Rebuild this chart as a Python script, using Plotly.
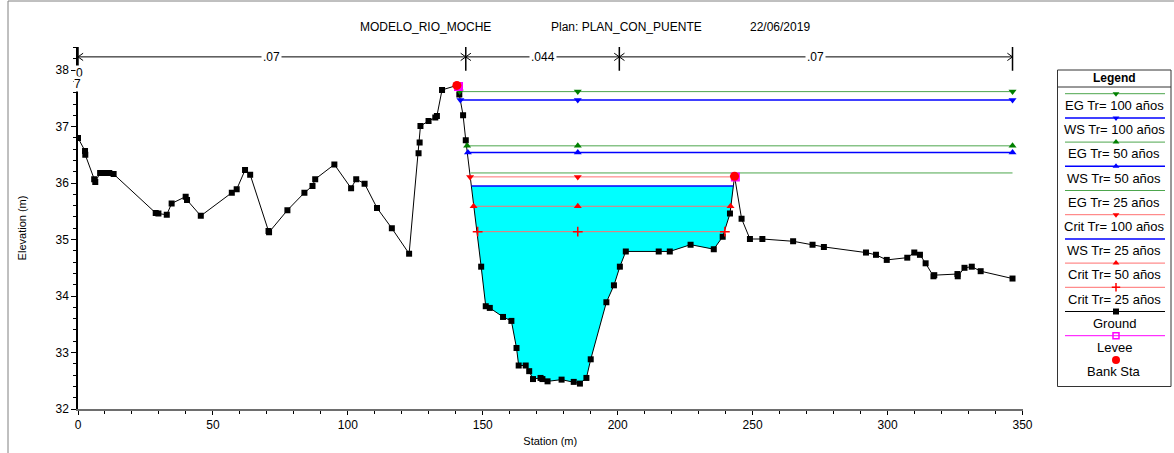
import numpy as np
import plotly.graph_objects as go

# ---------------- data ----------------
ground_sta = [0, 2.6, 2.7, 6.0, 6.4, 8.2, 10.0, 11.6, 13.2, 28.8, 29.8, 32.9, 34.7, 39.9, 40.4,
              45.5, 57.0, 58.8, 61.9, 63.8, 70.6, 70.8, 77.6, 83.9, 86.9, 87.9, 95.0, 101.2, 103.1,
              106.2, 110.8, 116.3, 122.7, 126.2, 126.6, 126.9, 129.9, 132.4, 133.0, 134.9, 140.4,
              141.3, 142.7, 143.7, 149.4, 151.1, 152.6, 157.5, 160.6, 162.5, 163.3, 165.9, 167.2,
              168.6, 171.4, 172.1, 174.0, 179.2, 183.7, 186.0, 188.4, 190.0, 195.8, 198.6, 200.8,
              203.0, 215.2, 219.3, 227.0, 235.6, 238.9, 241.6, 243.3, 245.9, 249.0, 253.6, 265.0,
              272.2, 276.4, 292.0, 295.7, 299.7, 307.3, 309.9, 312.0, 314.1, 317.0, 317.3, 325.9,
              326.0, 328.5, 331.2, 334.5, 346.3]
ground_elev = [36.80, 36.57, 36.50, 36.07, 36.02, 36.18, 36.18, 36.18, 36.16, 35.47, 35.46, 35.44,
               35.64, 35.76, 35.70, 35.42, 35.83, 35.89, 36.23, 36.15, 35.15, 35.13, 35.52, 35.83,
               35.95, 36.07, 36.33, 35.91, 36.07, 35.99, 35.56, 35.20, 34.75, 36.53, 36.72, 37.01,
               37.10, 37.16, 37.19, 37.65, 37.73, 37.57, 37.20, 36.76, 34.52, 33.82, 33.79, 33.63,
               33.56, 33.08, 32.77, 32.77, 32.67, 32.53, 32.55, 32.53, 32.49, 32.52, 32.48, 32.45,
               32.55, 32.88, 33.89, 34.19, 34.52, 34.79, 34.79, 34.79, 34.91, 34.83, 35.05, 35.46,
               36.12, 35.37, 35.01, 35.01, 34.97, 34.91, 34.87, 34.77, 34.73, 34.64, 34.68, 34.77,
               34.73, 34.58, 34.35, 34.37, 34.39, 34.35, 34.50, 34.52, 34.44, 34.31]

bank_sta = [140.4, 243.3]
bank_elev = [37.73, 36.12]
levee_sta = [141.0, 243.6]
levee_elev = [37.71, 36.11]

profile_names = ["EG Tr= 100 años", "WS Tr= 100 años", "EG Tr= 50 años", "WS Tr= 50 años",
                 "EG Tr= 25 años", "Crit Tr= 100 años", "WS Tr= 25 años", "Crit Tr= 50 años",
                 "Crit Tr= 25 años"]
profile_elev = [37.62, 37.47, 36.66, 36.54, 36.18, 36.11, 35.95, 35.59, 35.14]
profile_left = [141.45, 141.7, 144.2, 144.5, 145.5, 145.3, 145.8, 146.6, 148.1]
profile_right = [346.3, 346.3, 346.3, 346.3, 346.3, 243.0, 242.9, 241.8, 239.7]
profile_mid = 185.2

n_sta = [0, 143.7, 200.6, 346.3]
n_val = [".07", ".044", ".07"]
n_bar_elev = 38.235

x_ticks = [0, 50, 100, 150, 200, 250, 300, 350]
y_ticks = [32, 33, 34, 35, 36, 37, 38]

# ---------------- styles ----------------
GREEN_L = "#4da64d"
GREEN_M = "#008000"
BLUE = "#0000ff"
RED_L = "#ff7070"
RED_M = "#ff0000"
styles = {
    "EG Tr= 100 años": (GREEN_L, 1, "triangle-down", GREEN_M),
    "WS Tr= 100 años": (BLUE, 1.5, "triangle-down", BLUE),
    "EG Tr= 50 años": (GREEN_L, 1, "triangle-up", GREEN_M),
    "WS Tr= 50 años": (BLUE, 1.5, "triangle-up", BLUE),
    "EG Tr= 25 años": (GREEN_L, 1, None, None),
    "Crit Tr= 100 años": (RED_L, 1, "triangle-down", RED_M),
    "WS Tr= 25 años": (BLUE, 1.5, None, None),
    "Crit Tr= 50 años": (RED_L, 1, "triangle-up", RED_M),
    "Crit Tr= 25 años": (RED_L, 1, "cross-thin", RED_M),
}
FONT = "Liberation Sans, Arial, sans-serif"

fig = go.Figure()

# water fill for WS Tr=25
gs = np.array(ground_sta)
ge = np.array(ground_elev)
i_ws = profile_names.index("WS Tr= 25 años")
wl, wr, we = profile_left[i_ws], profile_right[i_ws], profile_elev[i_ws]
inside = (gs > wl) & (gs < wr)
fx = [wl] + list(gs[inside]) + [wr, wl]
fy = [we] + list(ge[inside]) + [we, we]
fig.add_trace(go.Scatter(x=fx, y=fy, fill="toself", fillcolor="#00ffff", mode="lines",
                         line=dict(width=0), showlegend=False))

# ground
fig.add_trace(go.Scatter(x=ground_sta, y=ground_elev, mode="lines+markers",
                         line=dict(color="black", width=1),
                         marker=dict(symbol="square", size=6, color="black"),
                         showlegend=False))

# profiles
for name, e, l, r in zip(profile_names, profile_elev, profile_left, profile_right):
    col, w, sym, mcol = styles[name]
    fig.add_trace(go.Scatter(x=[l, r], y=[e, e], mode="lines",
                             line=dict(color=col, width=w), showlegend=False))
    if sym:
        fig.add_trace(go.Scatter(x=[l, profile_mid, r], y=[e, e, e], mode="markers",
                                 marker=dict(symbol=sym, size=7, color=mcol,
                                             line=dict(color=mcol, width=1.5 if sym == "cross-thin" else 0)),
                                 showlegend=False))

# levee and bank stations
fig.add_trace(go.Scatter(x=levee_sta, y=levee_elev, mode="markers",
                         marker=dict(symbol="square", size=9, color="#ff00ff"), showlegend=False))
fig.add_trace(go.Scatter(x=bank_sta, y=bank_elev, mode="markers",
                         marker=dict(symbol="circle", size=9, color="#ff0000"), showlegend=False))

shapes = []
annotations = []

# Manning's n bar
shapes.append(dict(type="line", xref="x", yref="y", x0=n_sta[0], x1=n_sta[-1],
                   y0=n_bar_elev, y1=n_bar_elev, line=dict(color="black", width=1)))
for i, s in enumerate(n_sta):
    shapes.append(dict(type="line", xref="x", yref="y", x0=s, x1=s, y0=37.99, y1=38.45,
                       line=dict(color="black", width=1.5)))
for i in range(len(n_val)):
    a, b = n_sta[i], n_sta[i + 1]
    for (px, d) in ((a, 1), (b, -1)):
        for dy in (0.065, -0.065):
            shapes.append(dict(type="line", xref="x", yref="y", x0=px, y0=n_bar_elev,
                               x1=px + d * 1.9, y1=n_bar_elev + dy,
                               line=dict(color="black", width=1)))
    annotations.append(dict(x=(a + b) / 2, y=n_bar_elev, xref="x", yref="y", text=n_val[i],
                            showarrow=False, bgcolor="white", borderpad=1,
                            font=dict(family=FONT, size=12, color="black")))

# odd axis label remnants near top
annotations.append(dict(x=0.0012, y=37.95, xref="paper", yref="y", text="0", showarrow=False,
                        xanchor="center", bgcolor="white", borderpad=0,
                        font=dict(family=FONT, size=12, color="black")))
annotations.append(dict(x=-0.0005, y=37.75, xref="paper", yref="y", text="7", showarrow=False,
                        xanchor="center", bgcolor="white", borderpad=0,
                        font=dict(family=FONT, size=12, color="black")))

# title pieces (pixel -> paper: x=(px-78)/1094, y=(409-py)/362)
def px2paper(px, py):
    return (px - 78) / 1094, (409 - py) / 362

for txt, lx in (("MODELO_RIO_MOCHE", 358), ("Plan: PLAN_CON_PUENTE", 549), ("22/06/2019", 748)):
    x, y = px2paper(lx, 18)
    annotations.append(dict(x=x, y=y, xref="paper", yref="paper", text=txt, showarrow=False,
                            xanchor="left", font=dict(family=FONT, size=12, color="black")))

# outer frame
x0, y0 = px2paper(8, 1)
shapes.append(dict(type="rect", xref="paper", yref="paper", x0=x0, y0=-0.3, x1=1.3, y1=y0,
                   line=dict(color="#808080", width=1)))

# ---------------- custom legend (pixel coordinates on hidden axes) ----------------
shapes.append(dict(type="rect", xref="x2", yref="y2", x0=1057.5, x1=1171, y0=70, y1=386.5,
                   line=dict(color="#333333", width=1)))
shapes.append(dict(type="line", xref="x2", yref="y2", x0=1057.5, x1=1171, y0=87, y1=87,
                   line=dict(color="#333333", width=1)))
annotations.append(dict(x=1114, y=78.5, xref="x2", yref="y2", text="<b>Legend</b>", showarrow=False,
                        font=dict(family=FONT, size=12, color="black")))

legend_items = [(n,) + styles[n] for n in profile_names] + [
    ("Ground", "black", 1, "square", "black"),
    ("Levee", "#ff00ff", 1, "square-open", "#ff00ff"),
    ("Bank Sta", None, 0, "circle", "#ff0000"),
]
for i, (name, col, w, sym, mcol) in enumerate(legend_items):
    ly = 93.7 + i * 24.2
    if col:
        fig.add_trace(go.Scatter(x=[1065, 1165], y=[ly, ly], mode="lines", xaxis="x2", yaxis="y2",
                                 line=dict(color=col, width=w), showlegend=False))
    if sym:
        fig.add_trace(go.Scatter(x=[1116], y=[ly], mode="markers", xaxis="x2", yaxis="y2",
                                 marker=dict(symbol=sym, size=6 if sym != "circle" else 8, color=mcol,
                                             line=dict(color=mcol, width=1.5 if sym in ("cross-thin", "square-open") else 0)),
                                 showlegend=False))
    annotations.append(dict(x=1114, y=ly + 11.8, xref="x2", yref="y2", text=name, showarrow=False,
                            font=dict(family=FONT, size=13, color="black")))

fig.update_layout(
    width=1174, height=453, autosize=False,
    margin=dict(l=78, r=2, t=47, b=44, autoexpand=False),
    paper_bgcolor="white", plot_bgcolor="white",
    showlegend=False,
    shapes=shapes, annotations=annotations,
    xaxis=dict(domain=[0, (1022.5 - 78) / 1094], range=[0, 350], tickvals=x_ticks,
               showgrid=False, zeroline=False, showline=True, linecolor="#6e6e6e", linewidth=2,
               ticks="outside", ticklen=4, tickcolor="black", automargin=False,
               minor=dict(dtick=10, ticks="outside", ticklen=3, tickcolor="black"),
               tickfont=dict(family=FONT, size=12, color="black"),
               title=dict(text="Station (m)", font=dict(family=FONT, size=11, color="black"), standoff=6)),
    yaxis=dict(domain=[0, 1], range=[32, 38.41], tickvals=y_ticks,
               showgrid=False, zeroline=False, showline=True, linecolor="black", linewidth=1.5,
               ticks="outside", ticklen=5, tickcolor="black", automargin=False,
               minor=dict(dtick=0.2, ticks="outside", ticklen=3, tickcolor="black"),
               tickfont=dict(family=FONT, size=12, color="black"),
               title=dict(text="Elevation (m)", font=dict(family=FONT, size=11, color="black"), standoff=27)),
    xaxis2=dict(domain=[(1057 - 78) / 1094, 1.0], range=[1057, 1172], visible=False,
                fixedrange=True, automargin=False),
    yaxis2=dict(domain=[(409 - 387) / 362, (409 - 69) / 362], range=[387, 69], visible=False,
                fixedrange=True, anchor="x2", automargin=False),
)
fig.update_traces(hoverinfo="skip")
fig.write_html(
    "out.html",
    config={"responsive": False, "displayModeBar": False},
    post_script=(
        "document.documentElement.style.overflow='hidden';"
        "document.body.style.margin='0px';document.body.style.overflow='hidden';"
        "Plotly.relayout(document.getElementById('{plot_id}'), {width: 1174, height: 453});"
    ),
)
